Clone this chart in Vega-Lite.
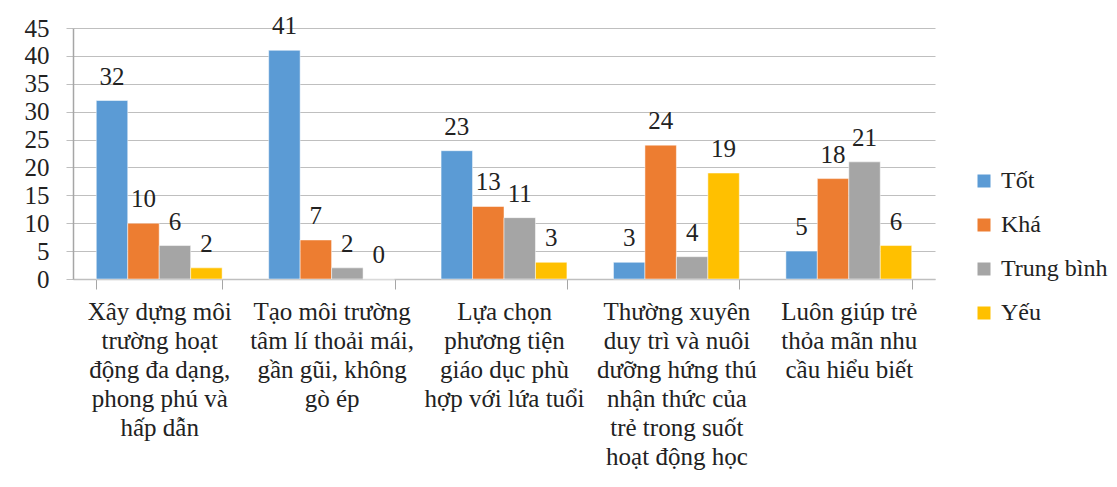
{
  "$schema": "https://vega.github.io/schema/vega-lite/v6.json",
  "width": 862,
  "height": 251,
  "autosize": {"type": "none"},
  "padding": {"left": 73, "top": 28, "right": 182, "bottom": 208},
  "background": "white",
  "config": {
    "font": "Liberation Serif",
    "view": {"stroke": null},
    "axis": {"labelFont": "Liberation Serif", "labelColor": "#222222"},
    "legend": {"labelFont": "Liberation Serif", "labelColor": "#222222"}
  },
  "data": {
    "values": [
      {"category": "Xây dựng môi|trường hoạt|động đa dạng,|phong phú và|hấp dẫn", "series": "Tốt", "value": 32},
      {"category": "Xây dựng môi|trường hoạt|động đa dạng,|phong phú và|hấp dẫn", "series": "Khá", "value": 10},
      {"category": "Xây dựng môi|trường hoạt|động đa dạng,|phong phú và|hấp dẫn", "series": "Trung bình", "value": 6},
      {"category": "Xây dựng môi|trường hoạt|động đa dạng,|phong phú và|hấp dẫn", "series": "Yếu", "value": 2},
      {"category": "Tạo môi trường|tâm lí thoải mái,|gần gũi, không|gò ép", "series": "Tốt", "value": 41},
      {"category": "Tạo môi trường|tâm lí thoải mái,|gần gũi, không|gò ép", "series": "Khá", "value": 7},
      {"category": "Tạo môi trường|tâm lí thoải mái,|gần gũi, không|gò ép", "series": "Trung bình", "value": 2},
      {"category": "Tạo môi trường|tâm lí thoải mái,|gần gũi, không|gò ép", "series": "Yếu", "value": 0},
      {"category": "Lựa chọn|phương tiện|giáo dục phù|hợp với lứa tuổi", "series": "Tốt", "value": 23},
      {"category": "Lựa chọn|phương tiện|giáo dục phù|hợp với lứa tuổi", "series": "Khá", "value": 13},
      {"category": "Lựa chọn|phương tiện|giáo dục phù|hợp với lứa tuổi", "series": "Trung bình", "value": 11},
      {"category": "Lựa chọn|phương tiện|giáo dục phù|hợp với lứa tuổi", "series": "Yếu", "value": 3},
      {"category": "Thường xuyên|duy trì và nuôi|dưỡng hứng thú|nhận thức của|trẻ trong suốt|hoạt động học", "series": "Tốt", "value": 3},
      {"category": "Thường xuyên|duy trì và nuôi|dưỡng hứng thú|nhận thức của|trẻ trong suốt|hoạt động học", "series": "Khá", "value": 24},
      {"category": "Thường xuyên|duy trì và nuôi|dưỡng hứng thú|nhận thức của|trẻ trong suốt|hoạt động học", "series": "Trung bình", "value": 4},
      {"category": "Thường xuyên|duy trì và nuôi|dưỡng hứng thú|nhận thức của|trẻ trong suốt|hoạt động học", "series": "Yếu", "value": 19},
      {"category": "Luôn giúp trẻ|thỏa mãn nhu|cầu hiểu biết", "series": "Tốt", "value": 5},
      {"category": "Luôn giúp trẻ|thỏa mãn nhu|cầu hiểu biết", "series": "Khá", "value": 18},
      {"category": "Luôn giúp trẻ|thỏa mãn nhu|cầu hiểu biết", "series": "Trung bình", "value": 21},
      {"category": "Luôn giúp trẻ|thỏa mãn nhu|cầu hiểu biết", "series": "Yếu", "value": 6}
    ]
  },
  "encoding": {
    "x": {
      "field": "category",
      "type": "nominal",
      "sort": null,
      "scale": {"paddingInner": 0.27, "paddingOuter": 0.135},
      "axis": {
        "title": null,
        "labelAngle": 0,
        "labelExpr": "split(datum.label, '|')",
        "labelFontSize": 25,
        "labelLineHeight": 29,
        "labelBaseline": "top",
        "labelPadding": 10,
        "labelLimit": 200,
        "tickBand": "extent",
        "tickSize": 10,
        "tickColor": "#A6A6A6",
        "domainColor": "#BFBFBF",
        "domainWidth": 1.5
      }
    },
    "xOffset": {
      "field": "series",
      "type": "nominal",
      "sort": ["Tốt", "Khá", "Trung bình", "Yếu"],
      "scale": {"paddingInner": 0, "paddingOuter": 0}
    },
    "y": {
      "field": "value",
      "type": "quantitative",
      "scale": {"domain": [0, 45], "nice": false},
      "axis": {
        "title": null,
        "values": [0, 5, 10, 15, 20, 25, 30, 35, 40, 45],
        "labelFontSize": 25,
        "labelPadding": 17,
        "tickSize": 7,
        "tickColor": "#BFBFBF",
        "gridColor": "#BFBFBF",
        "gridWidth": 1.2,
        "domainColor": "#A6A6A6",
        "domainWidth": 1.5
      }
    }
  },
  "layer": [
    {
      "mark": {"type": "bar", "stroke": "white", "strokeWidth": 0.5},
      "encoding": {
        "color": {
          "field": "series",
          "type": "nominal",
          "scale": {
            "domain": ["Tốt", "Khá", "Trung bình", "Yếu"],
            "range": ["#5B9BD5", "#ED7D31", "#A5A5A5", "#FFC000"]
          },
          "legend": {
            "title": null,
            "orient": "none",
            "legendX": 899,
            "legendY": 141,
            "padding": 0,
            "symbolType": "square",
            "symbolSize": 169,
            "symbolStrokeWidth": 0,
            "labelFontSize": 24,
            "labelOffset": 5,
            "rowPadding": 20
          }
        }
      }
    },
    {
      "mark": {"type": "text", "baseline": "alphabetic", "dy": -16, "fontSize": 25, "color": "#222222"},
      "encoding": {"text": {"field": "value", "type": "quantitative"}}
    }
  ]
}
